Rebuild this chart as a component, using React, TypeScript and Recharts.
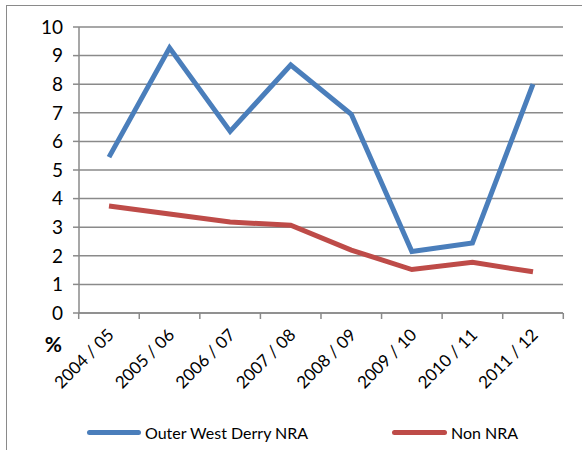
import React from "react"
import { CartesianGrid, Label, Line, LineChart, XAxis, YAxis } from "recharts"

const years = ["2004 / 05", "2005 / 06", "2006 / 07", "2007 / 08", "2008 / 09", "2009 / 10", "2010 / 11", "2011 / 12"]
const outerWestDerry = [5.45, 9.27, 6.35, 8.67, 6.95, 2.15, 2.45, 8.0]
const nonNra = [3.74, 3.46, 3.18, 3.07, 2.2, 1.52, 1.77, 1.44]
const yTicks = [0, 1, 2, 3, 4, 5, 6, 7, 8, 9, 10]
const seriesNames = ["Outer West Derry NRA", "Non NRA"]

const BLUE = "#4a7ebb"
const RED = "#be4b48"
const GRID = "#8a8a8a"
const FONT = "Lato, 'Open Sans', sans-serif"

const data = years.map((year, i) => ({
  year,
  outer: outerWestDerry[i],
  non: nonNra[i]
}))

const HALF_BAND = 30.3

function YearTick(props: any) {
  const { x, y, payload, index } = props
  const top = y - 8
  return (
    <g>
      <line x1={x - HALF_BAND} y1={top} x2={x - HALF_BAND} y2={top + 6} stroke={GRID} strokeWidth={1.5} />
      {index === years.length - 1 && (
        <line x1={x + HALF_BAND} y1={top} x2={x + HALF_BAND} y2={top + 6} stroke={GRID} strokeWidth={1.5} />
      )}
      <text
        x={x + 6}
        y={y + 15}
        transform={`rotate(-45, ${x + 6}, ${y + 15})`}
        textAnchor="end"
        fontSize={17}
        fontFamily={FONT}
        fill="#000"
      >
        {payload.value}
      </text>
    </g>
  )
}

export default function App() {
  return (
    <div style={{ position: "absolute", left: 0, top: 0, width: 582, height: 450, background: "#fff" }}>
      <div
        style={{
          position: "absolute",
          left: 6,
          top: 5,
          right: 0,
          bottom: 0,
          borderLeft: "1.5px solid #8a8a8a",
          borderTop: "1.5px solid #8a8a8a"
        }}
      />
      <LineChart
        width={582}
        height={450}
        data={data}
        margin={{ top: 27, right: 19, bottom: 0, left: 0 }}
        style={{ position: "absolute", left: 0, top: 0 }}
      >
        <CartesianGrid vertical={false} stroke={GRID} strokeWidth={1.5} />
        <XAxis
          dataKey="year"
          height={137}
          padding={{ left: 30, right: 30 }}
          axisLine={{ stroke: GRID, strokeWidth: 1.5 }}
          tickLine={false}
          interval={0}
          tick={<YearTick />}
        />
        <YAxis
          width={79}
          domain={[0, 10]}
          ticks={yTicks}
          interval={0}
          axisLine={{ stroke: GRID, strokeWidth: 1.5 }}
          tickLine={{ stroke: GRID, strokeWidth: 1.5 }}
          tickSize={6}
          tickMargin={10}
          tick={{ fill: "#000", fontSize: 19, fontFamily: FONT }}
        >
          <Label
            content={() => (
              <text x={62} y={352} textAnchor="end" fontSize={21} fontWeight="bold" fontFamily={FONT} fill="#000">
                %
              </text>
            )}
          />
        </YAxis>
        <Line
          dataKey="outer"
          name={seriesNames[0]}
          stroke={BLUE}
          strokeWidth={5}
          dot={false}
          isAnimationActive={false}
        />
        <Line
          dataKey="non"
          name={seriesNames[1]}
          stroke={RED}
          strokeWidth={5}
          dot={false}
          isAnimationActive={false}
        />
      </LineChart>
      <div style={{ position: "absolute", left: 87, top: 423, fontFamily: FONT, fontSize: 16, display: "flex", alignItems: "center" }}>
        <span style={{ display: "inline-block", width: 54, height: 5, borderRadius: 3, background: BLUE, marginRight: 4 }} />
        <span>{seriesNames[0]}</span>
      </div>
      <div style={{ position: "absolute", left: 392, top: 423, fontFamily: FONT, fontSize: 16, display: "flex", alignItems: "center" }}>
        <span style={{ display: "inline-block", width: 55, height: 5, borderRadius: 3, background: RED, marginRight: 4 }} />
        <span>{seriesNames[1]}</span>
      </div>
    </div>
  )
}
